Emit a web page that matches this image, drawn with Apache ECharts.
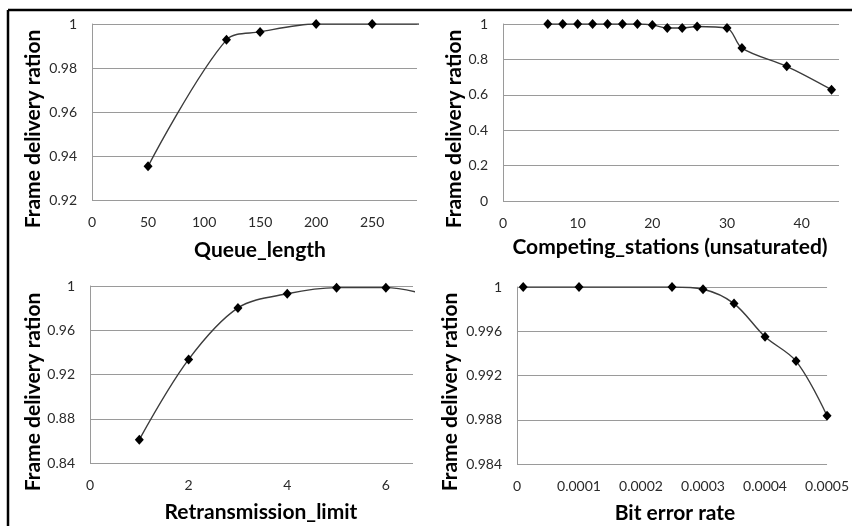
<!DOCTYPE html>
<html>
<head>
<meta charset="utf-8">
<script src="https://cdn.jsdelivr.net/npm/echarts@6/dist/echarts.min.js"></script>
<style>
html,body{margin:0;padding:0;background:#fff;}
#chart{width:852px;height:526px;}
</style>
</head>
<body>
<div id="chart"></div>
<script>
// Panel 1: Queue_length
const queueLength = [50, 120, 150, 200, 250, 300];
const queueRatio = [0.9353, 0.9928, 0.9964, 1.0, 1.0, 1.0];
// Panel 2: Competing stations (unsaturated)
const stations = [6, 8, 10, 12, 14, 16, 18, 20, 22, 24, 26, 30, 32, 38, 44];
const stationsRatio = [1.0, 1.0, 1.0, 1.0, 1.0, 1.0, 1.0, 0.995, 0.977, 0.977, 0.986, 0.977, 0.864, 0.761, 0.629];
// Panel 3: Retransmission_limit
const retrans = [1, 2, 3, 4, 5, 6, 7];
const retransRatio = [0.8611, 0.9336, 0.9802, 0.993, 0.9985, 0.9985, 0.990];
// Panel 4: Bit error rate
const ber = [0.00001, 0.0001, 0.00025, 0.0003, 0.00035, 0.0004, 0.00045, 0.0005];
const berRatio = [1.0, 1.0, 1.0, 0.9998, 0.9985, 0.9955, 0.9933, 0.98836];

const xTitles = ['Queue_length', 'Competing_stations (unsaturated)', 'Retransmission_limit', 'Bit error rate'];
const yTitle = 'Frame delivery ration';

const FONT = 'Lato, "Open Sans", sans-serif';
const TITLE_FONT = 'bold 21px ' + FONT;
const gridColor = '#9a9a9a';

function pairs(xs, ys) { return xs.map((x, i) => [x, ys[i]]); }

const grids = [
  {left: 92, top: 24, width: 325, height: 176},
  {left: 503, top: 24, width: 336, height: 177},
  {left: 90, top: 286, width: 323, height: 177},
  {left: 517, top: 287, width: 316, height: 177}
];
const xCfg = [
  {min: 0, max: 290, interval: 50},
  {min: 0, max: 45, interval: 10},
  {min: 0, max: 6.55, interval: 2},
  {min: 0, max: 0.0005, interval: 0.0001}
];
const yCfg = [
  {min: 0.92, max: 1, interval: 0.02},
  {min: 0, max: 1, interval: 0.2},
  {min: 0.84, max: 1, interval: 0.04},
  {min: 0.984, max: 1, interval: 0.004}
];
const seriesData = [
  pairs(queueLength, queueRatio),
  pairs(stations, stationsRatio),
  pairs(retrans, retransRatio),
  pairs(ber, berRatio)
];

const labelStyle = {color: '#2a2a2a', fontFamily: FONT, fontSize: 14};

function titleText(x, y, text, rot) {
  return {
    type: 'text', x: x, y: y, rotation: rot || 0,
    style: {text: text, font: TITLE_FONT, fill: '#000', align: 'center', verticalAlign: 'middle'}
  };
}

const option = {
  backgroundColor: '#fff',
  animation: false,
  grid: grids.map(g => Object.assign({containLabel: false}, g)),
  xAxis: xCfg.map((c, i) => ({
    type: 'value', gridIndex: i, min: c.min, max: c.max, interval: c.interval,
    axisLine: {show: false},
    axisTick: {show: false},
    splitLine: {show: false},
    axisLabel: Object.assign({margin: 15, showMaxLabel: i === 3}, labelStyle)
  })),
  yAxis: yCfg.map((c, i) => ({
    type: 'value', gridIndex: i, min: c.min, max: c.max, interval: c.interval,
    axisLine: {show: true, lineStyle: {color: gridColor, width: 1}},
    axisTick: {show: false},
    splitLine: {show: true, lineStyle: {color: gridColor, width: 1}},
    axisLabel: Object.assign({margin: 15}, labelStyle)
  })),
  series: seriesData.map((d, i) => ({
    type: 'line', xAxisIndex: i, yAxisIndex: i, data: d,
    smooth: 0.33, clip: true,
    symbol: 'diamond', symbolSize: [9, 10],
    itemStyle: {color: '#000'},
    lineStyle: {color: '#3c3c3c', width: 1.4}
  })),
  graphic: [
    {type: 'line', shape: {x1: 8, y1: 10, x2: 852, y2: 10}, style: {stroke: '#000', lineWidth: 2.5}},
    {type: 'line', shape: {x1: 8, y1: 10, x2: 8, y2: 526}, style: {stroke: '#000', lineWidth: 2.5}},
    titleText(260, 250, xTitles[0]),
    titleText(670, 247, xTitles[1]),
    titleText(261, 512, xTitles[2]),
    titleText(675, 513, xTitles[3]),
    titleText(33, 129, yTitle, Math.PI / 2),
    titleText(454, 129, yTitle, Math.PI / 2),
    titleText(33, 392, yTitle, Math.PI / 2),
    titleText(450, 392, yTitle, Math.PI / 2)
  ]
};

const chart = echarts.init(document.getElementById('chart'), null, {renderer: 'canvas'});
chart.setOption(option);
</script>
</body>
</html>
